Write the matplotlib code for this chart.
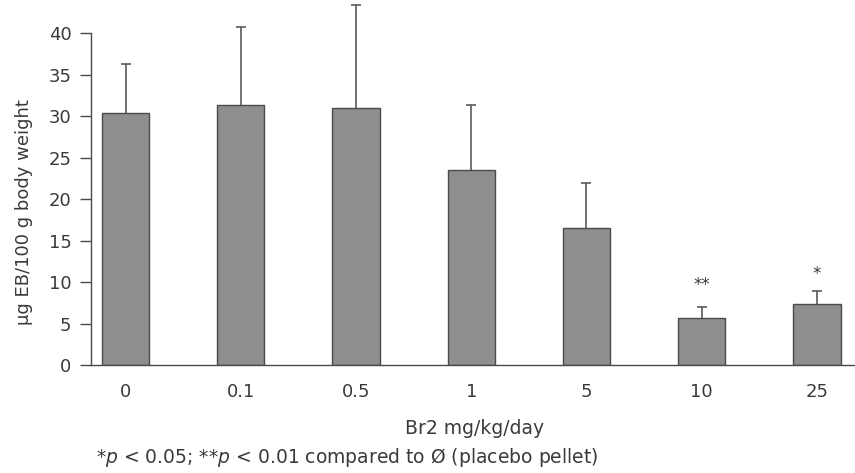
import matplotlib
matplotlib.use('Agg')
import matplotlib.pyplot as plt

doses = ['0', '0.1', '0.5', '1', '5', '10', '25']
means = [30.4, 31.3, 31.0, 23.5, 16.5, 5.7, 7.35]
errs = [5.9, 9.4, 12.4, 7.8, 5.5, 1.3, 1.55]
stars = ['', '', '', '', '', '**', '*']
star_y = [0, 0, 0, 0, 0, 9.6, 11.0]

TXT = '#3a3a3a'
plt.rcParams['font.family'] = ['DejaVu Sans']
plt.rcParams['mathtext.fontset'] = 'dejavusans'

fig = plt.figure(figsize=(8.55, 4.73), dpi=100)
ax = fig.add_axes([0.1064, 0.2283, 0.8936, 0.7717])

xs = list(range(len(doses)))
ax.bar(xs, means, width=0.41, color='#8e8e8e', edgecolor='#4a4a4a', linewidth=1.0, zorder=2)
# only the upper half of the error bar is shown, so drop the lower caps
eb = ax.errorbar(xs, means, yerr=[[0] * len(errs), errs], fmt='none', ecolor='#5a5a5a',
                 elinewidth=1.2, capsize=3.6, capthick=1.2, zorder=1)
eb[1][0].set_visible(False)
for x, s, y in zip(xs, stars, star_y):
    if s:
        ax.text(x, y, s, ha='center', va='center', fontsize=12, color=TXT)

ax.set_xlim(-0.3, 6.33)
ax.set_ylim(0, 44)
ax.set_xticks(xs)
ax.set_xticklabels(doses)
ax.set_yticks(range(0, 41, 5))
ax.spines['top'].set_visible(False)
ax.spines['right'].set_visible(False)
ax.spines['left'].set_bounds(0, 40)
for sp in ('left', 'bottom'):
    ax.spines[sp].set_color('#4a4a4a')
    ax.spines[sp].set_linewidth(1.0)
ax.tick_params(axis='x', length=0, pad=13, labelsize=13, colors=TXT)
ax.tick_params(axis='y', length=8, width=1.0, pad=6, labelsize=13, colors=TXT)
ax.tick_params(axis='y', color='#4a4a4a')

ax.set_ylabel('μg EB/100 g body weight', fontsize=13, color=TXT)
ax.yaxis.set_label_coords(-0.076, 0.42)
fig.text(475 / 855, 1 - 428 / 473, 'Br2 mg/kg/day', ha='center', va='center',
         fontsize=13.5, color=TXT)
fig.text(96 / 855, 1 - 457 / 473,
         '*$p$ < 0.05; **$p$ < 0.01 compared to Ø (placebo pellet)',
         ha='left', va='center', fontsize=13.5, color=TXT)

fig.savefig('out.png', dpi=100)
